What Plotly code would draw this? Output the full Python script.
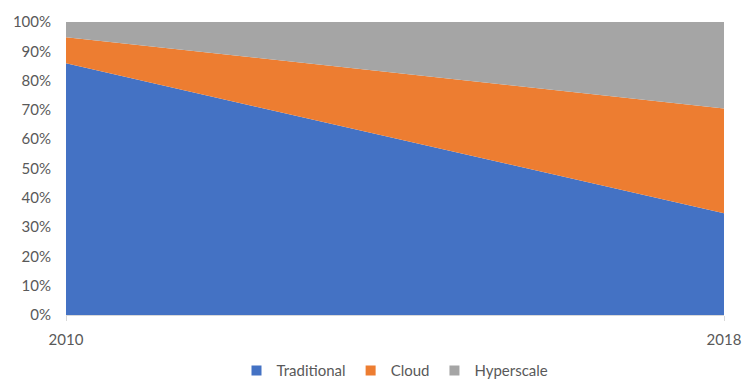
import plotly.graph_objects as go

# Share of data-centre workloads by type (percent of total)
years = [2010, 2018]
traditional = [85.9, 34.7]
cloud = [8.9, 35.8]
hyperscale = [5.2, 29.5]

series = [
    ("Traditional", traditional, "#4472C4"),
    ("Cloud", cloud, "#ED7D31"),
    ("Hyperscale", hyperscale, "#A5A5A5"),
]

y_ticks = list(range(0, 101, 10))
y_tick_labels = [f"{v}%" for v in y_ticks]

font_family = "Lato, Open Sans, sans-serif"
text_color = "#595959"

fig = go.Figure()
for name, values, color in series:
    fig.add_trace(go.Scatter(
        x=years,
        y=values,
        name=name,
        mode="lines",
        stackgroup="share",
        line=dict(width=0, color=color),
        fillcolor=color,
        showlegend=False,
        hoverinfo="x+y+name",
    ))

# Square swatches for the legend
for name, _, color in series:
    fig.add_trace(go.Scatter(
        x=[None],
        y=[None],
        name=name,
        mode="markers",
        marker=dict(symbol="square", size=10, color=color),
        showlegend=True,
    ))

fig.update_layout(
    width=742,
    height=383,
    margin=dict(l=66, r=18, t=22, b=68, autoexpand=False),
    paper_bgcolor="white",
    plot_bgcolor="white",
    font=dict(family=font_family, size=15, color=text_color),
    showlegend=True,
    legend=dict(
        orientation="h",
        x=0.5,
        xanchor="center",
        y=-0.19,
        yanchor="middle",
        font=dict(size=15, color=text_color),
        itemwidth=30,
        traceorder="normal",
        tracegroupgap=0,
    ),
    xaxis=dict(
        range=[2010, 2018],
        tickvals=years,
        ticktext=[str(y) for y in years],
        showgrid=False,
        zeroline=False,
        showline=True,
        linecolor="#D9D9D9",
        ticks="outside",
        ticklen=5,
        tickcolor="#D9D9D9",
        ticklabelstandoff=6,
        tickfont=dict(size=15, color=text_color),
    ),
    yaxis=dict(
        range=[0, 100],
        tickvals=y_ticks,
        ticktext=y_tick_labels,
        showgrid=False,
        zeroline=False,
        showline=False,
        ticks="",
        ticklabelstandoff=14,
        tickfont=dict(size=15, color=text_color),
    ),
)

fig.write_html("out.html")
